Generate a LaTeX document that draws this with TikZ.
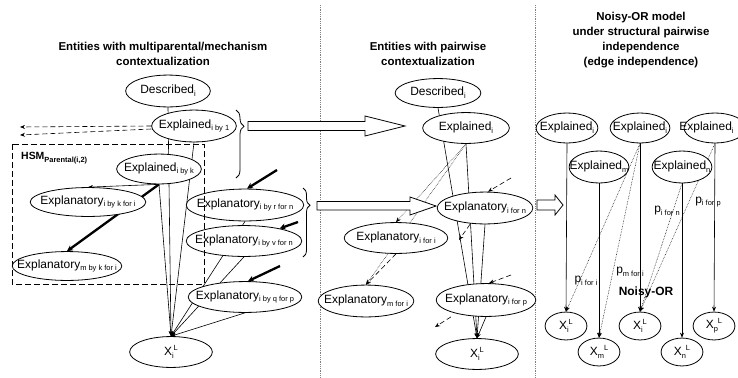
\documentclass[tikz,border=0pt]{standalone}
\usepackage{fontspec}
\setmainfont{Liberation Sans}
\usetikzlibrary{arrows.meta,shapes.geometric,decorations.pathreplacing,backgrounds}

\newcommand{\subx}[1]{\raisebox{-0.45ex}{\fontsize{7.5}{8}\selectfont #1}}
\newcommand{\supx}[1]{\raisebox{0.8ex}{\fontsize{7.5}{8}\selectfont #1}}

\begin{document}
\begin{tikzpicture}[
  x=1bp, y=-1bp,
  every node/.style={font=\fontsize{12}{14}\selectfont},
  ell/.style 2 args={ellipse, draw, line width=0.8bp, fill=white, inner sep=0pt,
    minimum width=#1, minimum height=#2,
    execute at begin node={\hbox to 0pt\bgroup\hss},
    execute at end node={\hss\egroup}},
  title/.style={align=center, font=\fontsize{11.5}{14.8}\selectfont\bfseries},
  arr/.style={-{Stealth[length=5bp,width=4bp]}, line width=0.6bp},
  fat/.style={-{Stealth[length=6bp,width=6bp]}, line width=2.3bp},
  dsh/.style={arr, dash pattern=on 5bp off 3bp},
  dot/.style={arr, densely dotted, line width=0.5bp},
  sep/.style={gray, densely dotted, line width=0.8bp},
  brc/.style={decorate, line width=0.8bp},
  hollow/.style={draw, fill=white, line width=0.8bp},
  lbl/.style={inner sep=0pt}
]
\useasboundingbox (0,0) rectangle (738,377);

% panel titles
\node[title] (ttl1) at (163,54) {Entities with multiparental/mechanism\\contextualization};
\node[title] (ttl2) at (428,54) {Entities with pairwise\\contextualization};
\node[title] (ttl3) at (641,40) {Noisy-OR model\\under structural pairwise\\independence\\(edge independence)};

% separators
\draw[sep] (320,5) -- (320,377);
\draw[sep] (535,5) -- (535,377);

% multiparental / mechanism panel
\node[ell={85}{32}] (desl) at (168,91) {Described\subx{i}};
\node[ell={85}{32}] (eb1) at (194,126) {Explained\subx{i by 1}};
\node[ell={85}{30}] (ebk) at (159,169) {Explained\subx{i by k}};
\node[ell={116}{29}] (xki) at (88,202) {Explanatory\subx{i by k for i}};
\node[ell={110}{29}] (xmk) at (67,266) {Explanatory\subx{m by k for i}};
\node[ell={118}{32}] (xrn) at (245,205) {Explanatory\subx{i by r for n}};
\node[ell={116}{31}] (xvn) at (244,241) {Explanatory\subx{i by v for n}};
\node[ell={114}{31}] (xqp) at (245,297) {Explanatory\subx{i by q for p}};
\node[ell={83}{31}] (xl) at (171,352) {X\subx{i}\supx{L}};

\coordinate (dl1) at (20,127);
\coordinate (dl2) at (20,135);
\coordinate (tr) at (277,170);
\coordinate (tv) at (298,222);
\coordinate (tq) at (280,266);

% pairwise panel
\node[ell={86}{29}] (desm) at (438,93) {Described\subx{i}};
\node[ell={87}{31}] (expm) at (466,128) {Explained\subx{i}};
\node[ell={96}{32}] (xin) at (485,208) {Explanatory\subx{i for n}};
\node[ell={104}{31}] (xii) at (396,238) {Explanatory\subx{i for i}};
\node[ell={96}{32}] (xmi) at (366,301) {Explanatory\subx{m for i}};
\node[ell={100}{33}] (xip) at (486,300) {Explanatory\subx{i for p}};
\node[ell={83}{31}] (xm) at (477,354) {X\subx{i}\supx{L}};

\coordinate (din) at (511,178);
\coordinate (dout) at (459,240);
\coordinate (dip) at (511,275);
\coordinate (dop) at (435,327);

% noisy-or panel
\node[ell={62}{30}] (ea) at (567,128) {Explained\subx{i}};
\node[ell={60}{30}] (eb) at (640,128) {Explained\subx{i}};
\node[ell={62}{30}] (ec) at (715,128) {\kern-17bp Explained\subx{i}};
\node[ell={60}{32}] (em) at (599,167) {Explained\subx{m}};
\node[ell={60}{32}] (en) at (682,167) {Explained\subx{n}};
\node[ell={42}{28}] (xa) at (566,326) {X\subx{i}\supx{L}};
\node[ell={42}{28}] (xb) at (599,352) {X\subx{m}\supx{L}};
\node[ell={42}{28}] (xc) at (640,326) {X\subx{i}\supx{L}};
\node[ell={42}{28}] (xd) at (682,352) {X\subx{n}\supx{L}};
\node[ell={42}{28}] (xe) at (714,326) {X\subx{p}\supx{L}};

\node[lbl] (pii) at (586,281) {p\subx{i for i}};
\node[lbl] (pmi) at (630,272) {p\subx{m for i}};
\node[lbl] (pin) at (667,211) {p\subx{i for n}};
\node[lbl] (pip) at (708,202) {p\subx{i for p}};
\node[lbl, font=\fontsize{12}{14}\selectfont\bfseries] (nor) at (646,292) {Noisy-OR};

\begin{pgfonlayer}{background}
\draw[arr] (desl.south) -- (xl.north);
\draw[arr] (eb1.south) -- (xl.north);
\draw[arr] (ebk.south) -- (xl.north);
\draw[arr] (xrn.south) -- (xl.north);
\draw[arr] (xvn.south) -- (xl.north);
\draw[arr] (xqp.south) -- (xl.north);
\draw[arr] (ebk.south) -- (xki.north);
\draw[fat] (ebk.south) -- (xmk.north);
\draw[fat] (tr) -- ([xshift=2bp]xrn.north);
\draw[fat] (tv) -- (xvn);
\draw[fat] (tq) -- ([xshift=3bp]xqp.north);
\draw[dsh] (eb1.west) -- (dl1);
\draw[dsh] ([yshift=-3bp]eb1.west) -- (dl2);

\draw[arr] (desm.south) -- (xm.north);
\draw[arr] (expm.south) -- (xm.north);
\draw[arr] (xin.south) -- (xm.north);
\draw[arr] (xip.south) -- (xm.north);
\draw[dot] (expm.south) -- (xii.north);
\draw[dot] (expm.south) -- (xmi.north);
\draw[dsh] (xii.south) -- (xmi.north);
\draw[dsh] (din) -- ([xshift=3bp]xin.north);
\draw[dsh] ([xshift=-15bp]xin.south) -- (dout);
\draw[dsh] (dip) -- ([xshift=3bp]xip.north);
\draw[dsh] ([xshift=-35bp]xip.south) -- (dop);

\draw[arr] (ea.south) -- (xa.north);
\draw[arr] (em.south) -- (xb.north);
\draw[arr] (eb.south) -- (xc.north);
\draw[arr] (en.south) -- (xd.north);
\draw[arr] (ec.south) -- (xe.north);
\draw[dot] (eb.south) -- (xa.north);
\draw[dot] (eb.south) -- (xb.north);
\draw[dot] (en.south) -- (xc.north);
\draw[dot] (ec.south) -- (xc.north);
\end{pgfonlayer}

% HSM group
\draw[line width=0.8bp, dash pattern=on 6bp off 3bp] (12,144) rectangle (204,284);
\node[anchor=west, inner sep=0pt, font=\fontsize{10.5}{12}\selectfont\bfseries] (hsm) at (21,158) {HSM\subx{Parental(i,2)}};

% braces and hollow arrows
\draw[brc, decoration={brace, amplitude=8bp, aspect=0.24}] (236,110) -- (236,178);
\draw[brc, decoration={brace, amplitude=7bp, aspect=0.25}] (303,188) -- (303,257);
\draw[hollow] (248,121.5) -- (365,121.5) -- (365,116) -- (405,126) -- (365,136) -- (365,130.5) -- (248,130.5) -- cycle;
\draw[hollow] (317,201.5) -- (410,201.5) -- (410,197) -- (436,206) -- (410,215) -- (410,210) -- (317,210) -- cycle;
\draw[hollow] (537,200) -- (555,200) -- (555,195) -- (563,205) -- (555,215) -- (555,210) -- (537,210) -- cycle;
\end{tikzpicture}
\end{document}
